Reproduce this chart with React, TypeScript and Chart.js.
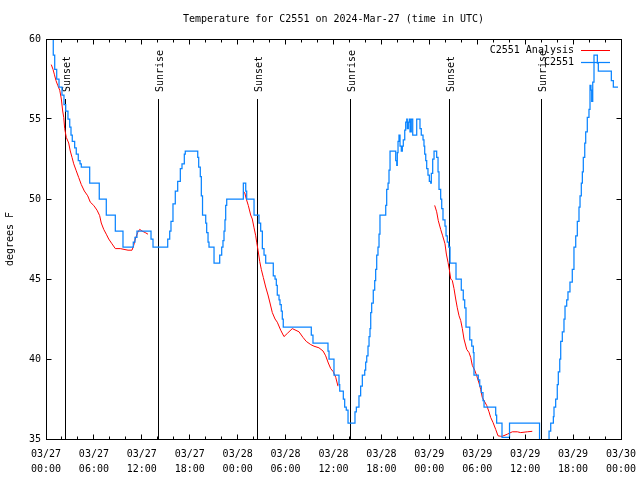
import React, { useEffect, useRef } from 'react';
import { Chart, registerables } from 'chart.js';

Chart.register(...registerables);

const FONT = '"DejaVu Sans Mono", "Liberation Mono", monospace';
const BLUE = '#0a84ff';
const RED = '#ff0000';

const titleText = 'Temperature for C2551 on 2024-Mar-27 (time in UTC)';
const yTitle = 'degrees F';

const xTickDates = ['03/27', '03/27', '03/27', '03/27', '03/28', '03/28', '03/28', '03/28', '03/29', '03/29', '03/29', '03/29', '03/30'];
const xTickTimes = ['00:00', '06:00', '12:00', '18:00', '00:00', '06:00', '12:00', '18:00', '00:00', '06:00', '12:00', '18:00', '00:00'];

const sunHours = [2.42, 14.06, 26.46, 38.1, 50.5, 62.03];
const sunLabels = ['Sunset', 'Sunrise', 'Sunset', 'Sunrise', 'Sunset', 'Sunrise'];

const legendLabels = ['C2551 Analysis', 'C2551'];

// Observations (C2551), hours since 03/27 00:00 UTC
const blueHours = [
  0.63, 0.91, 1.09, 1.34, 1.63, 2.0, 2.25, 2.47, 2.75, 2.97, 3.13, 3.29, 3.59, 3.79, 4.04, 4.26, 4.42,
  5.47, 6.67, 7.55, 8.68, 9.64, 10.93, 11.14, 11.39, 13.15, 13.4, 15.24, 15.49, 15.65, 15.9, 16.19,
  16.49, 16.82, 17.03, 17.32, 17.44, 19.0, 19.12, 19.32, 19.45, 19.6, 20.0, 20.12, 20.29, 20.41,
  21.04, 21.75, 22.0, 22.16, 22.29, 22.41, 22.5, 22.63, 24.71, 25.01, 25.13, 26.05, 26.67, 26.88,
  27.09, 27.3, 27.51, 28.46, 28.68, 28.84, 28.96, 29.18, 29.3, 29.46, 29.59, 29.71, 33.22, 33.43,
  35.31, 35.44, 36.06, 36.69, 36.78, 37.23, 37.4, 37.6, 37.82, 38.69, 38.86, 39.19, 39.4, 39.61,
  39.91, 40.03, 40.16, 40.32, 40.45, 40.57, 40.66, 40.78, 40.98, 41.16, 41.28, 41.41, 41.57, 41.7,
  41.82, 42.54, 42.66, 42.83, 42.95, 43.08, 43.79, 43.92, 43.99, 44.08, 44.2, 44.33, 44.49, 44.62,
  44.74, 44.92, 45.04, 45.17, 45.24, 45.37, 45.49, 45.58, 45.74, 45.92, 46.42, 46.83, 46.99, 47.21,
  47.33, 47.42, 47.55, 47.67, 47.83, 48.0, 48.17, 48.25, 48.42, 48.59, 48.92, 49.09, 49.21, 49.42,
  49.55, 49.71, 49.96, 50.09, 50.25, 50.43, 50.59, 51.34, 52.0, 52.25, 52.43, 52.59, 53.06, 53.31,
  53.51, 53.59, 54.13, 54.31, 54.51, 54.72, 54.85, 56.31, 56.43, 57.1, 58.04, 61.8, 62.99, 63.2,
  63.53, 63.61, 63.82, 64.02, 64.15, 64.33, 64.45, 64.65, 64.86, 64.99, 65.2, 65.36, 65.61, 65.9,
  66.11, 66.33, 66.53, 66.74, 66.87, 67.03, 67.16, 67.28, 67.46, 67.58, 67.78, 67.99, 68.12, 68.24,
  68.33, 68.46, 68.62, 69.04, 69.16, 70.79, 71.04, 71.63,
];
const blueTemps = [
  60.6, 59.0, 58.1, 57.5, 57.0, 56.5, 55.9, 55.5, 55.0, 54.5, 54.0, 53.6, 53.2, 52.8, 52.4, 52.2, 52.0,
  51.0, 50.0, 49.0, 48.0, 47.0, 47.3, 47.6, 48.0, 47.5, 47.0, 47.5, 48.0, 48.6, 49.7, 50.5,
  51.1, 51.9, 52.2, 52.8, 53.0, 52.6, 52.0, 51.4, 50.2, 49.0, 48.5, 47.9, 47.3, 47.0,
  46.0, 46.5, 47.0, 47.4, 48.0, 48.7, 49.6, 50.0, 51.0, 50.5, 50.0, 49.0, 48.5, 48.0,
  46.9, 46.5, 46.0, 45.2, 45.0, 44.6, 44.0, 43.7, 43.4, 43.0, 42.5, 42.0, 41.5, 41.0,
  40.5, 40.0, 39.0, 38.4, 38.0, 37.5, 37.0, 36.8, 36.0, 36.7, 37.0, 37.7, 38.3, 39.0,
  39.3, 39.8, 40.2, 40.8, 41.4, 41.9, 42.9, 43.5, 44.3, 44.9, 45.6, 46.5, 47.0, 47.8,
  49.0, 49.6, 50.6, 51.0, 51.8, 53.0, 52.4, 52.1, 52.9, 53.6, 54.0, 53.3, 53.0, 53.3,
  53.7, 54.3, 54.8, 55.0, 54.4, 54.8, 55.0, 54.2, 55.0, 54.0, 55.0, 54.4, 54.0, 53.7,
  53.3, 52.8, 52.4, 51.9, 51.5, 51.1, 51.0, 51.6, 52.5, 53.0, 52.6, 51.7, 50.6, 50.0,
  49.4, 48.7, 48.3, 47.7, 47.3, 47.0, 46.0, 45.0, 44.3, 43.7, 43.2, 42.0, 41.2, 40.8,
  40.4, 39.0, 38.7, 38.3, 37.9, 37.4, 37.0, 36.5, 36.0, 35.1, 36.0, 34.5, 35.5, 36.0,
  36.4, 37.0, 37.5, 38.4, 39.2, 40.0, 41.1, 41.7, 42.5, 43.3, 43.7, 44.2, 44.8, 45.6,
  47.0, 47.7, 48.6, 49.5, 50.2, 51.0, 51.7, 52.6, 53.5, 54.2, 55.1, 55.6, 57.1, 56.8,
  56.1, 57.3, 59.0, 58.5, 58.0, 57.4, 57.0, 57.0,
];

// Analysis (C2551 Analysis); null marks a gap
const redHours = [
  0.66, 0.88, 1.04, 1.25, 1.47, 1.72, 1.92, 2.09, 2.22, 2.34, 2.54, 2.84, 3.04, 3.26, 3.47, 3.76,
  4.09, 4.42, 4.8, 5.22, 5.55, 5.97, 6.39, 6.72, 6.92, 7.23, 7.55, 7.85, 8.26, 8.68, 9.3, 10.27,
  10.77, 10.98, 11.18, 11.48, 11.73, 12.02, 12.43, 12.77,
  18.0,
  24.67, 24.88, 25.08, 25.33, 25.63, 25.83, 26.05, 26.26, 26.38, 26.55, 26.76, 26.96, 27.21, 27.51,
  27.8, 28.05, 28.34, 28.68, 28.96, 29.39, 29.8, 30.22, 30.84, 31.68, 32.18, 32.59, 33.15, 33.56,
  34.18, 34.69, 35.02, 35.35, 35.65, 35.98, 36.28, 36.56,
  42.0,
  48.67, 48.92, 49.12, 49.42, 49.67, 49.96, 50.13, 50.34, 50.5, 50.68, 50.88, 51.09, 51.3, 51.5,
  51.72, 51.93, 52.13, 52.34, 52.68, 52.97, 53.18, 53.38, 53.68, 53.93, 54.22, 54.43, 54.63, 54.85,
  55.18, 55.47, 55.68, 55.97, 56.31, 56.6, 56.94, 57.14, 57.77, 58.39, 59.02, 59.44, 60.27, 60.89,
];
const redTemps = [
  58.4, 58.1, 57.8, 57.4, 57.1, 56.8, 56.25, 55.5, 55.1, 54.4, 53.85, 53.5, 53.0, 52.6, 52.2, 51.8,
  51.35, 50.9, 50.5, 50.2, 49.8, 49.6, 49.3, 48.96, 48.5, 48.1, 47.8, 47.5, 47.2, 46.9, 46.9, 46.8,
  46.8, 47.1, 47.5, 47.9, 48.1, 48.0, 47.9, 47.8,
  null,
  50.5, 50.4, 50.0, 49.6, 49.0, 48.75, 48.2, 47.7, 47.3, 46.8, 46.1, 45.6, 45.1, 44.5,
  44.0, 43.5, 42.9, 42.5, 42.3, 41.8, 41.4, 41.6, 41.9, 41.7, 41.35, 41.1, 40.9, 40.8,
  40.7, 40.5, 40.2, 39.75, 39.4, 39.2, 38.85, 38.3,
  null,
  49.6, 49.2, 48.65, 48.1, 47.7, 47.2, 46.56, 46.04, 45.6, 45.0, 44.9, 44.4, 43.75, 43.2,
  42.7, 42.4, 41.9, 41.25, 40.6, 40.4, 40.1, 39.6, 39.3, 38.96, 38.5, 38.1, 37.6, 37.4,
  37.1, 36.7, 36.35, 36.04, 35.6, 35.2, 35.17, 35.17, 35.3, 35.45, 35.45, 35.4, 35.45, 35.48,
];

const decor = {
  id: 'decor',
  beforeDatasetsDraw(chart: any) {
    const { ctx, chartArea: a, scales } = chart;
    const x = scales.x;
    ctx.save();
    ctx.strokeStyle = '#000';
    ctx.lineWidth = 1;
    ctx.fillStyle = '#000';
    ctx.font = '10px ' + FONT;
    sunHours.forEach((h, i) => {
      const px = Math.floor(x.getPixelForValue(h)) + 0.5;
      ctx.beginPath();
      ctx.moveTo(px, 99);
      ctx.lineTo(px, a.bottom);
      ctx.stroke();
      ctx.save();
      ctx.translate(px + 1.5, 92);
      ctx.rotate(-Math.PI / 2);
      ctx.textAlign = 'left';
      ctx.textBaseline = 'middle';
      ctx.fillText(sunLabels[i], 0, 0);
      ctx.restore();
    });
    ctx.restore();
  },
  afterDatasetsDraw(chart: any) {
    const { ctx, chartArea: a, scales } = chart;
    const x = scales.x;
    const y = scales.y;
    ctx.save();
    ctx.strokeStyle = '#000';
    ctx.lineWidth = 1;
    const L = Math.round(a.left) + 0.5;
    const R = Math.round(a.right) + 0.5;
    const T = Math.round(a.top) + 0.5;
    const B = Math.round(a.bottom) + 0.5;
    ctx.strokeRect(L, T, R - L, B - T);
    ctx.beginPath();
    for (let h = 0; h <= 72; h += 2) {
      const px = Math.floor(x.getPixelForValue(h)) + 0.5;
      const len = h % 6 === 0 ? 5 : 3;
      ctx.moveTo(px, B);
      ctx.lineTo(px, B - len);
      ctx.moveTo(px, T);
      ctx.lineTo(px, T + len);
    }
    for (let v = 35; v <= 60; v += 5) {
      const py = Math.floor(y.getPixelForValue(v)) + 0.5;
      ctx.moveTo(L, py);
      ctx.lineTo(L + 5, py);
      ctx.moveTo(R, py);
      ctx.lineTo(R - 5, py);
    }
    ctx.stroke();

    ctx.fillStyle = '#000';
    ctx.font = '10px ' + FONT;
    ctx.textBaseline = 'middle';
    ctx.textAlign = 'center';
    ctx.fillText(titleText, (a.left + a.right) / 2, 19);

    ctx.save();
    ctx.translate(10, (a.top + a.bottom) / 2);
    ctx.rotate(-Math.PI / 2);
    ctx.textAlign = 'center';
    ctx.fillText(yTitle, 0, 0);
    ctx.restore();

    const colors = [RED, BLUE];
    legendLabels.forEach((lab, i) => {
      const ly = 50 + i * 12.5;
      ctx.textAlign = 'right';
      ctx.fillStyle = '#000';
      ctx.fillText(lab, 574, ly);
      ctx.strokeStyle = colors[i];
      ctx.lineWidth = i === 0 ? 1 : 1.25;
      ctx.beginPath();
      ctx.moveTo(581, Math.floor(ly) + 0.5);
      ctx.lineTo(610, Math.floor(ly) + 0.5);
      ctx.stroke();
    });
    ctx.restore();
  },
};

export default function App() {
  const ref = useRef<HTMLCanvasElement>(null);
  useEffect(() => {
    const chart = new Chart(ref.current as HTMLCanvasElement, {
      type: 'line',
      data: {
        datasets: [
          {
            label: 'C2551',
            data: blueHours.map((h, i) => ({ x: h, y: blueTemps[i] })),
            borderColor: BLUE,
            borderWidth: 1.25,
            stepped: 'before',
            pointRadius: 0,
            fill: false,
            order: 0,
            clip: 0,
          },
          {
            label: 'C2551 Analysis',
            data: redHours.map((h, i) => ({ x: h, y: redTemps[i] })),
            borderColor: RED,
            borderWidth: 1,
            pointRadius: 0,
            fill: false,
            spanGaps: false,
            tension: 0,
            order: 1,
            clip: 0,
          },
        ],
      } as any,
      options: {
        responsive: false,
        animation: false,
        devicePixelRatio: 1,
        layout: { padding: { top: 39, right: 19, left: 0, bottom: 0 } },
        plugins: { legend: { display: false }, tooltip: { enabled: false }, title: { display: false } },
        scales: {
          x: {
            type: 'linear',
            min: 0,
            max: 72,
            afterFit: (s: any) => {
              s.height = 41;
              s.paddingLeft = 0;
              s.paddingRight = 0;
            },
            grid: { display: false, drawTicks: false },
            border: { display: false },
            ticks: {
              stepSize: 6,
              autoSkip: false,
              maxRotation: 0,
              padding: 8,
              color: '#000',
              font: { family: FONT, size: 10, lineHeight: 1.5 },
              callback: (_v: any, i: number) => [xTickDates[i], xTickTimes[i]],
            },
          },
          y: {
            type: 'linear',
            min: 35,
            max: 60,
            afterFit: (s: any) => {
              s.width = 46;
              s.paddingTop = 0;
              s.paddingBottom = 0;
            },
            grid: { display: false, drawTicks: false },
            border: { display: false },
            ticks: {
              stepSize: 5,
              padding: 5,
              color: '#000',
              font: { family: FONT, size: 10 },
            },
          },
        },
      } as any,
      plugins: [decor],
    });
    return () => chart.destroy();
  }, []);
  return (
    <div style={{ position: 'absolute', left: 0, top: 0, width: 640, height: 480, background: '#fff' }}>
      <canvas ref={ref} width={640} height={480} style={{ display: 'block' }} />
    </div>
  );
}
